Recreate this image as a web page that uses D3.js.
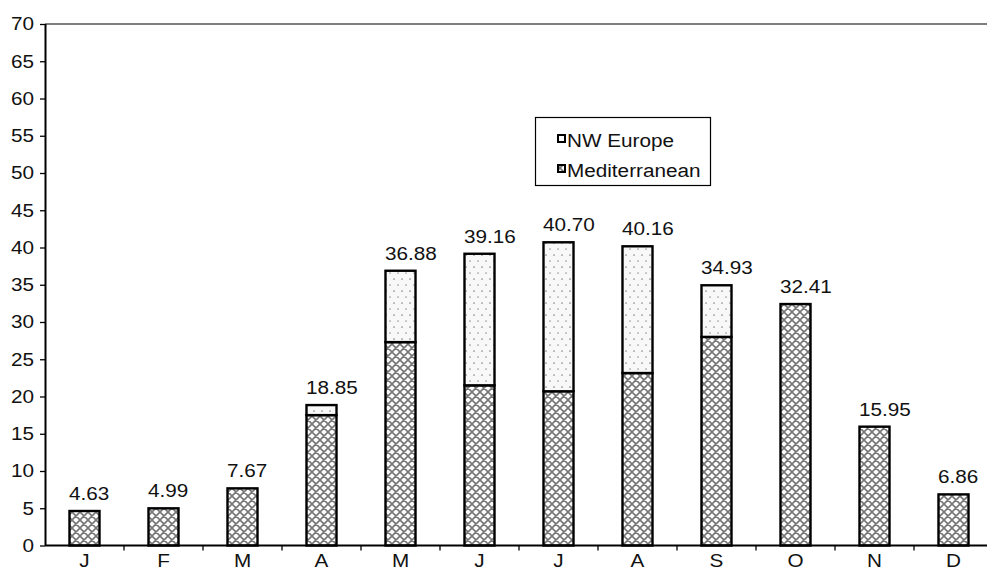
<!DOCTYPE html>
<html>
<head>
<meta charset="utf-8">
<script src="https://cdn.jsdelivr.net/npm/d3@7"></script>
<style>
  html, body { margin: 0; padding: 0; background: #fff; }
  svg { display: block; font-family: "Liberation Sans", Arial, sans-serif; }
</style>
</head>
<body>
<svg id="chart" width="987" height="567"></svg>
<script>
// Monthly share by region (stacked), with the monthly total written above each bar
const months = ["J", "F", "M", "A", "M", "J", "J", "A", "S", "O", "N", "D"];
const mediterranean = [4.63, 4.99, 7.67, 17.5, 27.3, 21.5, 20.7, 23.15, 28.0, 32.41, 15.95, 6.86];
const nwEurope      = [0, 0, 0, 1.35, 9.58, 17.66, 20.0, 17.01, 6.93, 0, 0, 0];
const totals        = [4.63, 4.99, 7.67, 18.85, 36.88, 39.16, 40.70, 40.16, 34.93, 32.41, 15.95, 6.86];
const totalLabels   = ["4.63", "4.99", "7.67", "18.85", "36.88", "39.16", "40.70", "40.16", "34.93", "32.41", "15.95", "6.86"];
const yTicks = [0, 5, 10, 15, 20, 25, 30, 35, 40, 45, 50, 55, 60, 65, 70];

const rows = months.map((m, i) => ({ i, med: mediterranean[i], nw: nwEurope[i] }));

const svg = d3.select("#chart");
const plotLeft = 45, plotRight = 45 + 79 * 12, plotTop = 24, plotBottom = 545.5;
const FONT = 18;
const WIDEN = 1.15; // glyphs are drawn slightly wide

// Stretch a text selection horizontally while keeping its anchor
function widen(sel) {
  sel.each(function () {
    const w = this.getComputedTextLength();
    this.setAttribute("textLength", (w * WIDEN).toFixed(2));
    this.setAttribute("lengthAdjust", "spacingAndGlyphs");
  });
}

const x = d3.scaleBand()
  .domain(d3.range(months.length))
  .range([plotLeft, plotRight])
  .paddingInner(0.62)
  .paddingOuter(0.31);

const y = d3.scaleLinear().domain([0, 70]).range([plotBottom, plotTop]);

// Fill patterns: cross-hatch for Mediterranean, sparse dots for NW Europe
const defs = svg.append("defs");
const hatch = defs.append("pattern")
  .attr("id", "hatch").attr("patternUnits", "userSpaceOnUse")
  .attr("width", 8).attr("height", 8);
hatch.append("rect").attr("width", 8).attr("height", 8).attr("fill", "#fcfcfc");
hatch.append("path").attr("d", "M0,0L8,8M8,0L0,8M-1,7L1,9M7,-1L9,1M-1,1L1,-1M7,9L9,7")
  .attr("stroke", "#777").attr("stroke-width", 1.6);

const dots = defs.append("pattern")
  .attr("id", "dots").attr("patternUnits", "userSpaceOnUse")
  .attr("width", 8).attr("height", 12);
dots.append("rect").attr("width", 8).attr("height", 12).attr("fill", "#f8f8f8");
dots.append("circle").attr("cx", 2).attr("cy", 3).attr("r", 0.85).attr("fill", "#8a8a8a");
dots.append("circle").attr("cx", 6).attr("cy", 9).attr("r", 0.85).attr("fill", "#9a9a9a");

// Top frame line
svg.append("line")
  .attr("x1", plotLeft).attr("x2", plotRight).attr("y1", y(70)).attr("y2", y(70))
  .attr("stroke", "#000").attr("stroke-width", 1.2);

// Stacked bars
const stack = d3.stack().keys(["med", "nw"]);
const series = stack(rows);
const fills = { med: "url(#hatch)", nw: "url(#dots)" };

svg.append("g").selectAll("g")
  .data(series)
  .join("g")
  .attr("fill", d => fills[d.key])
  .selectAll("rect")
  .data(d => d.filter(s => s[1] - s[0] > 0))
  .join("rect")
  .attr("x", d => x(d.data.i))
  .attr("width", x.bandwidth())
  .attr("y", d => y(d[1]))
  .attr("height", d => y(d[0]) - y(d[1]))
  .attr("stroke", "#000")
  .attr("stroke-width", 2.4);

// Total labels, starting at the bar's left edge
svg.append("g").selectAll("text")
  .data(rows)
  .join("text")
  .attr("x", d => x(d.i) - 0.5)
  .attr("y", d => y(totals[d.i]) - 11)
  .attr("text-anchor", "start")
  .attr("font-size", FONT)
  .attr("fill", "#111")
  .text(d => totalLabels[d.i])
  .call(widen);

// Y axis
const yAxis = svg.append("g")
  .attr("transform", `translate(${plotLeft},0)`)
  .call(d3.axisLeft(y).tickValues(yTicks).tickFormat(d3.format("d")).tickSize(5).tickPadding(6));
yAxis.select(".domain").attr("stroke", "#000").attr("stroke-width", 2).attr("d", `M0.5,${y(70)}V${plotBottom}`);
yAxis.selectAll(".tick line").attr("stroke", "#000").attr("stroke-width", 1.3);
yAxis.selectAll(".tick text").attr("font-size", FONT).attr("fill", "#111")
  .attr("font-family", "'Liberation Sans', Arial, sans-serif")
  .call(widen);

// X axis: labels centred under bars, tick marks between categories
const xAxis = svg.append("g")
  .attr("transform", `translate(0,${plotBottom})`)
  .call(d3.axisBottom(x).tickFormat(i => months[i]).tickSize(0).tickPadding(9));
xAxis.select(".domain").attr("stroke", "#000").attr("stroke-width", 2).attr("d", `M${plotLeft},0H${plotRight}`);
xAxis.selectAll(".tick text").attr("font-size", FONT).attr("fill", "#111")
  .attr("font-family", "'Liberation Sans', Arial, sans-serif")
  .call(widen);

const gap = (x.step() - x.bandwidth()) / 2;
xAxis.append("g").selectAll("line")
  .data(d3.range(1, months.length))
  .join("line")
  .attr("x1", i => x(i) - gap).attr("x2", i => x(i) - gap)
  .attr("y1", 0).attr("y2", 5)
  .attr("stroke", "#000").attr("stroke-width", 1.3);

// Legend
const legend = svg.append("g");
legend.append("rect")
  .attr("x", 535.5).attr("y", 117.5).attr("width", 175).attr("height", 68)
  .attr("fill", "#fff").attr("stroke", "#000").attr("stroke-width", 1.2);
const legendItems = [
  { label: "NW Europe", fill: "#fff", y: 134 },
  { label: "Mediterranean", fill: "url(#hatch)", y: 164 }
];
const li = legend.selectAll("g.item").data(legendItems).join("g").attr("class", "item");
li.append("rect")
  .attr("x", 558).attr("y", d => d.y + 1).attr("width", 7).attr("height", 7)
  .attr("fill", d => d.fill).attr("stroke", "#000").attr("stroke-width", 2);
li.append("text")
  .attr("x", 567).attr("y", d => d.y + 13)
  .attr("font-size", FONT).attr("fill", "#111")
  .text(d => d.label)
  .call(widen);
</script>
</body>
</html>
